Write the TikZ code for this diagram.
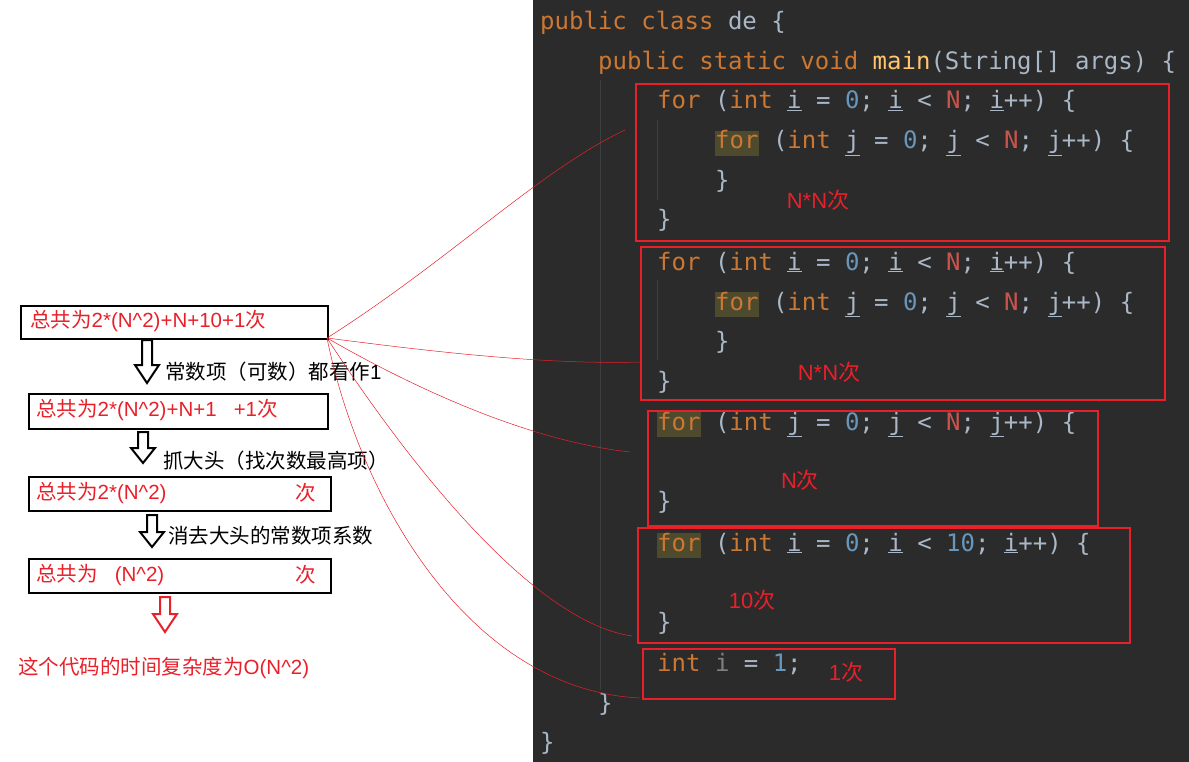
\documentclass[tikz,border=0pt]{standalone}
\usepackage{fontspec}
\setmonofont{DejaVu Sans Mono}
\newfontfamily\cjk{Noto Sans CJK SC}
\newfontfamily\latn{Liberation Sans}
\definecolor{bgd}{HTML}{2B2B2B}
\definecolor{kwc}{HTML}{CC7832}
\definecolor{plc}{HTML}{A9B7C6}
\definecolor{nuc}{HTML}{6897BB}
\definecolor{nnc}{HTML}{C9544B}
\definecolor{mnc}{HTML}{FFC66D}
\definecolor{hlc}{HTML}{4E4A2E}
\definecolor{rdc}{HTML}{E8202A}
\definecolor{gdc}{HTML}{3C3F41}
\newcommand{\kw}[1]{\textcolor{kwc}{#1}}
\newcommand{\numc}[1]{\textcolor{nuc}{#1}}
\newcommand{\NN}{\textcolor{nnc}{N}}
\newcommand{\hfor}{{\fboxsep=0pt\colorbox{hlc}{\strut\kw{for}}}}
\newcommand{\ui}{\underline{i}}
\newcommand{\uj}{\underline{j}}
\newcommand{\lat}[1]{{\latn #1}}
\begin{document}
\begin{tikzpicture}[x=1pt,y=-1pt,
 code/.style={anchor=base west,inner sep=0,font=\ttfamily\fontsize{24}{24}\selectfont,text=plc},
 rbox/.style={draw=rdc,line width=2pt},
 kbox/.style={draw=black,line width=2pt},
 lt/.style={font=\cjk\fontsize{20.5}{20.5}\selectfont,anchor=west,inner sep=0},
 cnt/.style={font=\cjk\fontsize{22}{22}\selectfont,text=rdc,inner sep=0},
 hol/.style={draw=black,line width=2pt,fill=white},
 lnk/.style={draw=rdc,line width=0.5pt}]
\useasboundingbox (0,0) rectangle (1189,762);
\fill[bgd] (533,0) rectangle (1189,762);
\foreach \x/\a/\b in {600/80/690,657/120/200,657/280/360}{\draw[gdc,line width=1pt] (\x,\a)--(\x,\b);}
% code
\node[code] (l1) at (540,30) {\kw{public}~\kw{class}~de~\{};
\node[code] (l2) at (598,70) {\kw{public}~\kw{static}~\kw{void}~\textcolor{mnc}{main}(String[]~args)~\{};
\node[code] (l3) at (657,109) {\kw{for}~(\kw{int}~\ui~=~\numc{0};~\ui~<~\NN;~\ui++)~\{};
\node[code] (l4) at (715,149) {\hfor~(\kw{int}~\uj~=~\numc{0};~\uj~<~\NN;~\uj++)~\{};
\node[code] (l5) at (715,189) {\}};
\node[code] (l6) at (657,228) {\}};
\node[code] (l7) at (657,270) {\kw{for}~(\kw{int}~\ui~=~\numc{0};~\ui~<~\NN;~\ui++)~\{};
\node[code] (l8) at (715,310) {\hfor~(\kw{int}~\uj~=~\numc{0};~\uj~<~\NN;~\uj++)~\{};
\node[code] (l9) at (715,349) {\}};
\node[code] (l10) at (657,389) {\}};
\node[code] (l11) at (657,430) {\hfor~(\kw{int}~\uj~=~\numc{0};~\uj~<~\NN;~\uj++)~\{};
\node[code] (l12) at (657,509) {\}};
\node[code] (l13) at (657,551) {\hfor~(\kw{int}~\ui~=~\numc{0};~\ui~<~\numc{10};~\ui++)~\{};
\node[code] (l14) at (657,630) {\}};
\node[code] (l15) at (657,671) {\kw{int}~\textcolor{gray}{i}~=~\numc{1};};
\node[code] (l16) at (598,711) {\}};
\node[code] (l17) at (540,750) {\}};
% red boxes
\node[rbox,inner sep=0,minimum width=533,minimum height=157,anchor=north west] (r1) at (635,83) {};
\node[rbox,inner sep=0,minimum width=524,minimum height=153,anchor=north west] (r2) at (640,246) {};
\node[rbox,inner sep=0,minimum width=450,minimum height=115,anchor=north west] (r3) at (647,410) {};
\node[rbox,inner sep=0,minimum width=492,minimum height=115,anchor=north west] (r4) at (637,527) {};
\node[rbox,inner sep=0,minimum width=252,minimum height=50,anchor=north west] (r5) at (642,648) {};
\node[cnt] (c1) at (818,200) {\lat{N*N}次};
\node[cnt] (c2) at (829,372) {\lat{N*N}次};
\node[cnt] (c3) at (800,480) {\lat{N}次};
\node[cnt] (c4) at (752,600) {\lat{10}次};
\node[cnt] (c5) at (846,672) {\lat{1}次};
% left boxes
\node[kbox,inner sep=0,minimum width=307,minimum height=33,anchor=north west] (b1) at (20,305) {};
\node[lt,text=rdc] (t1) at (30,321) {总共为\lat{2*(N\^{}2)+N+10+1}次};
\node[kbox,inner sep=0,minimum width=299,minimum height=35,anchor=north west] (b2) at (28,393) {};
\node[lt,text=rdc] (t2) at (36,410) {总共为\lat{2*(N\^{}2)+N+1\ \ \ +1}次};
\node[kbox,inner sep=0,minimum width=302,minimum height=34,anchor=north west] (b3) at (28,476) {};
\node[lt,text=rdc] (t3) at (36,493) {总共为\lat{2*(N\^{}2)}};
\node[lt,text=rdc] (t3b) at (295,493) {次};
\node[kbox,inner sep=0,minimum width=302,minimum height=34,anchor=north west] (b4) at (28,558) {};
\node[lt,text=rdc] (t4) at (36,575) {总共为\lat{\ \ \ (N\^{}2)}};
\node[lt,text=rdc] (t4b) at (295,575) {次};
% hollow arrows
\draw[hol] (142,340)--(152,340)--(152,365)--(159,365)--(147,383)--(135,365)--(142,365)--cycle;
\draw[hol] (138,432)--(148,432)--(148,448)--(155,448)--(143,463)--(131,448)--(138,448)--cycle;
\draw[hol] (147,515)--(157,515)--(157,532)--(164,532)--(152,547)--(140,532)--(147,532)--cycle;
\draw[draw=rdc,line width=2pt,fill=white] (160,597)--(170,597)--(170,614)--(177,614)--(165,632)--(153,614)--(160,614)--cycle;
\node[lt] (a1) at (165,372) {常数项（可数）都看作\lat{1}};
\node[lt] (a2) at (163,461) {抓大头（找次数最高项）};
\node[lt] (a3) at (168,536) {消去大头的常数项系数};
\node[lt,text=rdc] (res) at (18,668) {这个代码的时间复杂度为\lat{O(N\^{}2)}};
% links
\coordinate (s) at (327,338);
\coordinate (e1) at (625,130);
\coordinate (e2) at (640,362);
\coordinate (e3) at (630,452);
\coordinate (e4) at (632,636);
\coordinate (e5) at (640,698);
\draw[lnk] (s) .. controls (450,260) and (540,170) .. (e1);
\draw[lnk] (s) .. controls (420,350) and (540,365) .. (e2);
\draw[lnk] (s) .. controls (400,380) and (520,440) .. (e3);
\draw[lnk] (s) .. controls (380,420) and (520,620) .. (e4);
\draw[lnk] (s) .. controls (360,500) and (470,690) .. (e5);
\end{tikzpicture}
\end{document}
